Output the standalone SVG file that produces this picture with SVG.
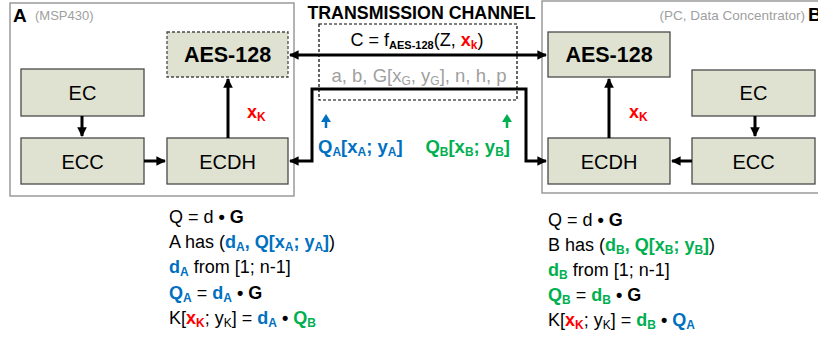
<svg xmlns="http://www.w3.org/2000/svg" width="818" height="340" viewBox="0 0 818 340">
<defs>
<marker id="ah" viewBox="0 0 10 10" refX="9" refY="5" markerWidth="3.2" markerHeight="3.2" orient="auto-start-reverse"><path d="M0,0 L10,5 L0,10 z" fill="#000"/></marker>
<style>
text{font-family:"Liberation Sans",Arial,sans-serif;}
.box{fill:#dfe2d1;stroke:#4a4a4a;stroke-width:1.3;}
.outer{fill:#fff;stroke:#9a9a9a;stroke-width:1.5;}
.lbl{font-size:20px;fill:#000;text-anchor:middle;}
.aes{font-size:21.5px;font-weight:bold;fill:#000;text-anchor:middle;}
.conn{fill:none;stroke:#000;stroke-width:3;}
.gray{fill:#a0a0a0;}
.eq{font-size:18px;fill:#000;}
.b{font-weight:bold;}
.blue{fill:#0070c0;font-weight:bold;}
.green{fill:#00b050;font-weight:bold;}
.red{fill:#ff0000;font-weight:bold;}
.s{font-size:12px;}
</style>
</defs>

<g id="nodeA">
<rect class="outer" x="10" y="3" width="284" height="193"/>
<text x="13" y="22" font-size="19" font-weight="bold">A</text>
<text x="35" y="20" font-size="13" class="gray">(MSP430)</text>
</g>
<g id="nodeB">
<rect class="outer" x="542" y="1" width="290" height="192"/>
<text x="805" y="20" font-size="13.5" class="gray" text-anchor="end">(PC, Data Concentrator)</text>
<text x="808" y="21" font-size="19" font-weight="bold">B</text>
</g>

<g id="channel">
<text x="421.5" y="19" font-size="17.8" font-weight="bold" text-anchor="middle">TRANSMISSION CHANNEL</text>
<rect x="319" y="24" width="198" height="76" fill="none" stroke="#000" stroke-width="1.2" stroke-dasharray="3,2"/>
</g>

<g id="A-AES"><rect class="box" x="167" y="32" width="121" height="45" stroke-dasharray="3,2"/><text class="aes" x="227.5" y="62">AES-128</text></g>
<g id="A-EC"><rect class="box" x="21" y="69" width="123" height="47"/><text class="lbl" x="82.5" y="100">EC</text></g>
<g id="A-ECC"><rect class="box" x="21" y="138" width="123" height="46"/><text class="lbl" x="82.5" y="169">ECC</text></g>
<g id="A-ECDH"><rect class="box" x="167" y="138" width="121" height="46"/><text class="lbl" x="227.5" y="169">ECDH</text></g>

<g id="B-AES"><rect class="box" x="548" y="32" width="122" height="45"/><text class="aes" x="609" y="62">AES-128</text></g>
<g id="B-EC"><rect class="box" x="692" y="70" width="123" height="46"/><text class="lbl" x="753.5" y="100">EC</text></g>
<g id="B-ECC"><rect class="box" x="692" y="138" width="123" height="46"/><text class="lbl" x="753.5" y="169">ECC</text></g>
<g id="B-ECDH"><rect class="box" x="548" y="138" width="122" height="46"/><text class="lbl" x="609" y="169">ECDH</text></g>

<g id="connectors">
<path class="conn" d="M82 116 V136" marker-end="url(#ah)"/>
<path class="conn" d="M144 161 H165" marker-end="url(#ah)"/>
<path class="conn" d="M228 138 V79" marker-end="url(#ah)"/>
<path class="conn" d="M755 116 V136" marker-end="url(#ah)"/>
<path class="conn" d="M692 161 H672" marker-end="url(#ah)"/>
<path class="conn" d="M609 138 V79" stroke-width="2.2" marker-end="url(#ah)"/>
<path class="conn" d="M290 55 H546" marker-start="url(#ah)" marker-end="url(#ah)"/>
<path class="conn" d="M290 161 H312 V89 H526 V161 H546" marker-start="url(#ah)" marker-end="url(#ah)"/>
<path d="M326 128 V121" stroke="#0070c0" stroke-width="2.5"/>
<path d="M321 122 L326 114 L331 122 z" fill="#0070c0"/>
<path d="M507 128 V121" stroke="#00b050" stroke-width="2.5"/>
<path d="M502 122 L507 114 L512 122 z" fill="#00b050"/>
</g>

<g id="labels">
<text x="247" y="118" font-size="18" class="red">x<tspan class="s" dy="3">K</tspan></text>
<text x="629" y="118" font-size="18" class="red">x<tspan class="s" dy="3">K</tspan></text>
<text x="417" y="46" font-size="18" text-anchor="middle">C = f<tspan font-size="11" font-weight="bold" dy="3">AES-128</tspan><tspan dy="-3">(Z, </tspan><tspan class="red">x</tspan><tspan class="red s" dy="3">k</tspan><tspan dy="-3">)</tspan></text>
<text x="419" y="82" font-size="18.5" class="gray" text-anchor="middle">a, b, G[x<tspan class="s" dy="3">G</tspan><tspan dy="-3">, y</tspan><tspan class="s" dy="3">G</tspan><tspan dy="-3">], n, h, p</tspan></text>
<text x="318" y="153" font-size="18.5" class="blue">Q<tspan class="s" dy="3">A</tspan><tspan dy="-3">[x</tspan><tspan class="s" dy="3">A</tspan><tspan dy="-3">; y</tspan><tspan class="s" dy="3">A</tspan><tspan dy="-3">]</tspan></text>
<text x="510" y="153" font-size="18.5" class="green" text-anchor="end">Q<tspan class="s" dy="3">B</tspan><tspan dy="-3">[x</tspan><tspan class="s" dy="3">B</tspan><tspan dy="-3">; y</tspan><tspan class="s" dy="3">B</tspan><tspan dy="-3">]</tspan></text>
</g>

<g id="eqA" class="eq">
<text x="169" y="223">Q = d <tspan font-weight="bold">•</tspan>  <tspan class="b">G</tspan></text>
<text x="169" y="248">A has (<tspan class="blue">d</tspan><tspan class="blue s" dy="3">A</tspan><tspan class="blue" dy="-3">, Q[x</tspan><tspan class="blue s" dy="3">A</tspan><tspan class="blue" dy="-3">; y</tspan><tspan class="blue s" dy="3">A</tspan><tspan class="blue" dy="-3">]</tspan>)</text>
<text x="169" y="273"><tspan class="blue">d</tspan><tspan class="blue s" dy="3">A</tspan><tspan dy="-3"> from [1; n-1]</tspan></text>
<text x="169" y="299"><tspan class="blue">Q</tspan><tspan class="blue s" dy="3">A</tspan><tspan dy="-3"> = </tspan><tspan class="blue">d</tspan><tspan class="blue s" dy="3">A</tspan><tspan dy="-3" font-weight="bold"> •  G</tspan></text>
<text x="169" y="324">K[<tspan class="red">x</tspan><tspan class="red s" dy="3">K</tspan><tspan dy="-3">; y</tspan><tspan class="s" dy="3">K</tspan><tspan dy="-3">] = </tspan><tspan class="blue">d</tspan><tspan class="blue s" dy="3">A</tspan><tspan dy="-3" font-weight="bold"> • </tspan><tspan class="green">Q</tspan><tspan class="green s" dy="3">B</tspan></text>
</g>

<g id="eqB" class="eq">
<text x="548" y="226">Q = d <tspan font-weight="bold">•</tspan>  <tspan class="b">G</tspan></text>
<text x="548" y="251">B has (<tspan class="green">d</tspan><tspan class="green s" dy="3">B</tspan><tspan class="green" dy="-3">, Q[x</tspan><tspan class="green s" dy="3">B</tspan><tspan class="green" dy="-3">; y</tspan><tspan class="green s" dy="3">B</tspan><tspan class="green" dy="-3">]</tspan>)</text>
<text x="548" y="276"><tspan class="green">d</tspan><tspan class="green s" dy="3">B</tspan><tspan dy="-3"> from [1; n-1]</tspan></text>
<text x="548" y="301"><tspan class="green">Q</tspan><tspan class="green s" dy="3">B</tspan><tspan dy="-3"> = </tspan><tspan class="green">d</tspan><tspan class="green s" dy="3">B</tspan><tspan dy="-3" font-weight="bold"> •  G</tspan></text>
<text x="548" y="326">K[<tspan class="red">x</tspan><tspan class="red s" dy="3">K</tspan><tspan dy="-3">; y</tspan><tspan class="s" dy="3">K</tspan><tspan dy="-3">] = </tspan><tspan class="green">d</tspan><tspan class="green s" dy="3">B</tspan><tspan dy="-3" font-weight="bold"> • </tspan><tspan class="blue">Q</tspan><tspan class="blue s" dy="3">A</tspan></text>
</g>
</svg>
